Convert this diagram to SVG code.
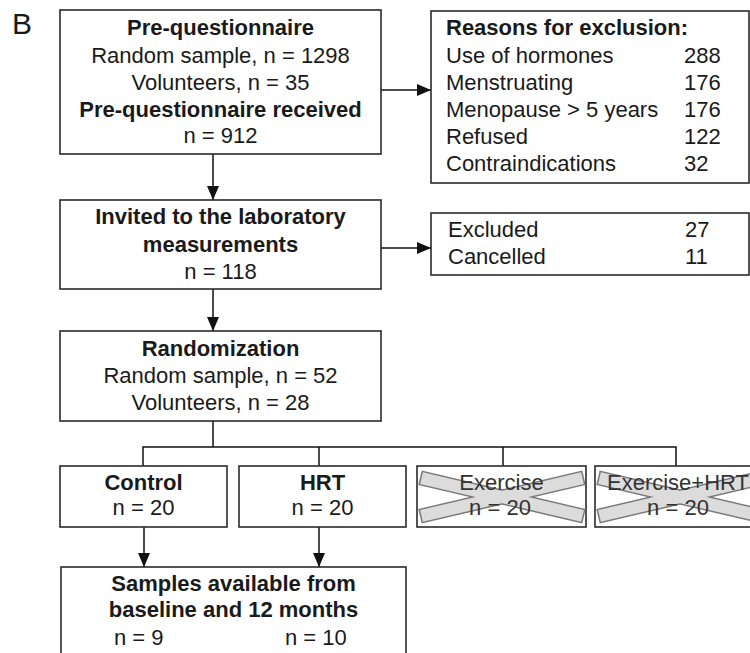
<svg xmlns="http://www.w3.org/2000/svg" width="750" height="653" viewBox="0 0 750 653">
<defs>
<style>
text{font-family:"Liberation Sans",Arial,sans-serif;font-size:22px;fill:#1a1a1a}
.b{font-weight:bold}
.c{text-anchor:middle}
.box{fill:#fff;stroke:#2a2a2a;stroke-width:1.6}
.ln{fill:none;stroke:#111;stroke-width:1.5}
.xo{stroke:#7a7a7a;stroke-width:15;fill:none}
.xi{stroke:#dcdcdc;stroke-width:12;fill:none}
.xt{fill:#333}
</style>
<marker id="ah" markerUnits="userSpaceOnUse" markerWidth="14" markerHeight="12" viewBox="0 0 14 12" refX="14" refY="6" orient="auto">
<path d="M0,0 L14,6 L0,12 Z" fill="#111"/>
</marker>
</defs>
<rect width="750" height="653" fill="#fff"/>
<text x="12" y="34" style="font-size:30px">B</text>

<g id="connectors">
<line class="ln" x1="213" y1="154" x2="213" y2="200" marker-end="url(#ah)"/>
<line class="ln" x1="381" y1="90" x2="431" y2="90" marker-end="url(#ah)"/>
<line class="ln" x1="213" y1="289" x2="213" y2="331" marker-end="url(#ah)"/>
<line class="ln" x1="381" y1="248" x2="431" y2="248" marker-end="url(#ah)"/>
<polyline class="ln" points="213,421 213,447"/>
<polyline class="ln" points="143,466 143,447 676,447 676,466"/>
<line class="ln" x1="319" y1="447" x2="319" y2="466"/>
<line class="ln" x1="503" y1="447" x2="503" y2="466"/>
<line class="ln" x1="144" y1="527" x2="144" y2="567" marker-end="url(#ah)"/>
<line class="ln" x1="319" y1="527" x2="319" y2="567" marker-end="url(#ah)"/>
</g>

<g id="prequestionnaire">
<rect class="box" x="60" y="10" width="321" height="144"/>
<text class="b c" x="220.5" y="35">Pre-questionnaire</text>
<text class="c" x="220.5" y="63">Random sample, n = 1298</text>
<text class="c" x="220.5" y="90">Volunteers, n = 35</text>
<text class="b c" x="220.5" y="117">Pre-questionnaire received</text>
<text class="c" x="220.5" y="143">n = 912</text>
</g>

<g id="reasons">
<rect class="box" x="431" y="11" width="318" height="172"/>
<text class="b" x="446" y="35">Reasons for exclusion:</text>
<text x="446" y="63">Use of hormones</text><text x="684" y="63">288</text>
<text x="446" y="90">Menstruating</text><text x="684" y="90">176</text>
<text x="446" y="117">Menopause &gt; 5 years</text><text x="684" y="117">176</text>
<text x="446" y="144">Refused</text><text x="684" y="144">122</text>
<text x="446" y="171">Contraindications</text><text x="684" y="171">32</text>
</g>

<g id="invited">
<rect class="box" x="60" y="200" width="321" height="89"/>
<text class="b c" x="220.5" y="224">Invited to the laboratory</text>
<text class="b c" x="220.5" y="252">measurements</text>
<text class="c" x="220.5" y="279">n = 118</text>
</g>

<g id="excluded">
<rect class="box" x="431" y="213" width="318" height="62"/>
<text x="448" y="237">Excluded</text><text x="685" y="237">27</text>
<text x="448" y="264">Cancelled</text><text x="685" y="264">11</text>
</g>

<g id="randomization">
<rect class="box" x="60" y="331" width="321" height="90"/>
<text class="b c" x="220.5" y="356">Randomization</text>
<text class="c" x="220.5" y="383">Random sample, n = 52</text>
<text class="c" x="220.5" y="410">Volunteers, n = 28</text>
</g>

<g id="control">
<rect class="box" x="60" y="466" width="167" height="61"/>
<text class="b c" x="143.5" y="490">Control</text>
<text class="c" x="143.5" y="515">n = 20</text>
</g>

<g id="hrt">
<rect class="box" x="239" y="466" width="167" height="61"/>
<text class="b c" x="322.5" y="490">HRT</text>
<text class="c" x="322.5" y="515">n = 20</text>
</g>

<g id="exercise">
<rect class="box" x="417" y="466" width="169" height="61"/>
<g>
<line class="xo" x1="420" y1="477.8" x2="584" y2="516.2"/>
<line class="xo" x1="584" y1="477.8" x2="420" y2="516.2"/>
<line class="xi" x1="421.5" y1="478.1" x2="582.5" y2="515.9"/>
<line class="xi" x1="582.5" y1="478.1" x2="421.5" y2="515.9"/>
</g>
<text class="c xt" x="501.5" y="490">Exercise</text>
<text class="c xt" x="500" y="515">n = 20</text>
</g>

<g id="exercise-hrt">
<rect class="box" x="595" y="466" width="169" height="61"/>
<g>
<line class="xo" x1="598" y1="477.8" x2="762" y2="516.2"/>
<line class="xo" x1="762" y1="477.8" x2="598" y2="516.2"/>
<line class="xi" x1="599.5" y1="478.1" x2="760.5" y2="515.9"/>
<line class="xi" x1="760.5" y1="478.1" x2="599.5" y2="515.9"/>
</g>
<text class="c xt" x="678" y="490">Exercise+HRT</text>
<text class="c xt" x="678" y="515">n = 20</text>
</g>

<g id="samples">
<rect class="box" x="61" y="567" width="345" height="100"/>
<text class="b c" x="233.5" y="591">Samples available from</text>
<text class="b c" x="233.5" y="617">baseline and 12 months</text>
<text x="114" y="645">n = 9</text>
<text x="285" y="645">n = 10</text>
</g>
</svg>
